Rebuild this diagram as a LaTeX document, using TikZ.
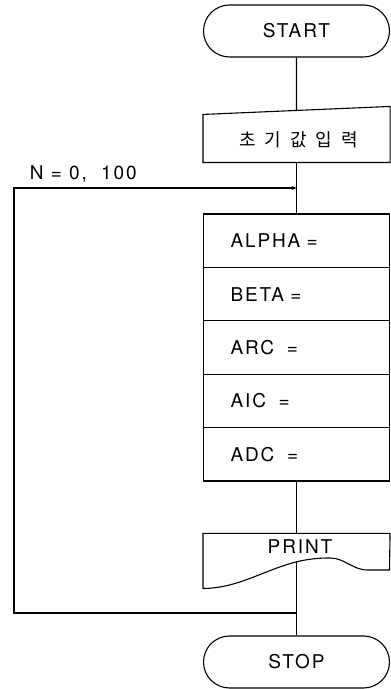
\documentclass[tikz,border=0pt]{standalone}
\usepackage{fontspec}
\setmainfont{TeX Gyre Heros}[LetterSpace=10]
\newfontfamily\kofont{Noto Sans CJK KR}
\usetikzlibrary{shapes.misc, arrows.meta, positioning, calc}

\begin{document}
\begin{tikzpicture}[
    x=1pt, y=1pt,
    font=\fontsize{19}{21}\selectfont,
    line width=1.1pt,
    >={Stealth[length=5pt, width=4pt]},
    terminal/.style={rounded rectangle, draw, minimum width=186pt, minimum height=52pt, inner sep=0pt},
    cell/.style={rectangle, draw, minimum width=186pt, minimum height=53.4pt, text width=132pt, align=left, inner xsep=27pt, inner ysep=0pt},
    blank/.style={rectangle, minimum width=186pt, inner sep=0pt}
]
\useasboundingbox (0,0) rectangle (391,689);

% Terminals
\node[terminal] (start) at (296.5,658) {START};
\node[terminal] (stop) at (296.5,27) {STOP};

% Input
\node[blank, minimum height=55pt] (input) at (296.5,554.5) {};
\coordinate (inTL) at ($(input.north west)+(0,-8)$);
\draw (input.south west) -- (inTL) -- (input.north east) -- (input.south east) -- cycle;
\node[font=\kofont\fontsize{18}{20}\selectfont] (inlab) at ($(input.center)+(2,-5)$)
  {초\hspace{9pt}기\hspace{9pt}값\hspace{9pt}입\hspace{9pt}력};

% Calculation
\foreach \txt [count=\i] in {ALPHA =, BETA =, ARC\ \ =, AIC\ \ =, ADC\ \ =}
  \node[cell] (c\i) at (296.5, {448.3-53.4*(\i-1)}) {\txt};

% Print
\node[blank, minimum height=54pt] (print) at (296.5,128) {};
\draw (print.south west) -- (print.north west) -- (print.north east) -- (389.5,119) -- (368,119)
  .. controls (352,119) and (345,131) .. (330,131)
  .. controls (318,131) and (310,130) .. (300,128)
  .. controls (265,120) and (240,101) .. (print.south west);
\node (prlab) at (300,142) {PRINT};

% Junctions
\coordinate (pw) at (296.5,128);
\coordinate (jt) at (296.5,501);
\coordinate (jb) at (296.5,76);

% Flow
\draw (start) -- ($(inTL)!0.5!(input.north east)$);
\draw (input) -- (c1);
\draw (c5) -- (print);
\draw (pw) -- (stop);

% Loop
\draw[->] (jb) -- ++(-282.5,0) |- (jt);
\node[anchor=base west] (nlab) at (26,509) {N = 0,\ \ 100};

\end{tikzpicture}
\end{document}
